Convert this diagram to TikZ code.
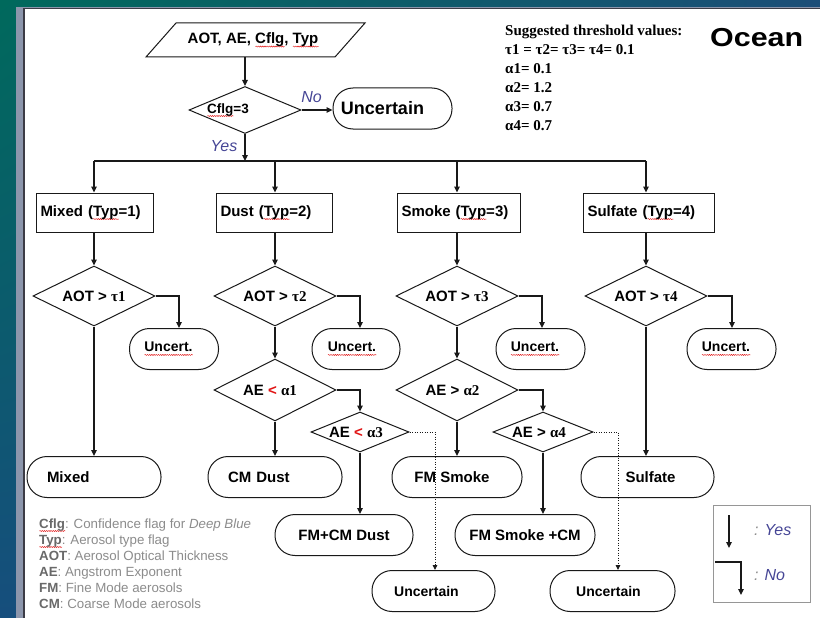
\documentclass[tikz,border=0pt]{standalone}
\usepackage{fontspec}
\setmainfont{Liberation Sans}
\newfontfamily\serifbf{Liberation Serif}
\usepackage{graphicx}
\usetikzlibrary{shapes.geometric,arrows.meta,decorations.pathmorphing,shadings}
\definecolor{bgTL}{RGB}{0,105,92}
\definecolor{bgTR}{RGB}{28,78,120}
\definecolor{bgBL}{RGB}{22,78,125}
\definecolor{bgBR}{RGB}{28,78,120}
\definecolor{stripc}{RGB}{140,150,172}
\definecolor{edgec}{RGB}{60,60,70}
\definecolor{linec}{RGB}{25,25,25}
\definecolor{labc}{RGB}{70,70,150}
\definecolor{legc}{RGB}{140,140,140}
\definecolor{legb}{RGB}{105,105,105}
\definecolor{legbox}{RGB}{150,150,150}
\definecolor{redc}{RGB}{225,20,20}
\newlength\rwlen
\newcommand\rw[1]{\settowidth\rwlen{#1}\rlap{\tikz[baseline=0pt,sharp corners]\draw[redc,solid,sharp corners,line width=0.45pt,decorate,decoration={snake,amplitude=0.55pt,segment length=2.2pt}] (0pt,-3pt) -- (\rwlen,-3pt);}#1}
\newcommand\gk[1]{{\serifbf\bfseries #1}}
\begin{document}
\begin{tikzpicture}[x=1pt,y=-1pt,
 ln/.style={line width=1.1pt,draw=linec},
 arr/.style={ln,-{Triangle[length=6pt,width=5.5pt]}},
 dotarr/.style={line width=0.9pt,draw=linec,dash pattern=on 1pt off 1.5pt,-{Triangle[length=5pt,width=4.5pt]}},
 txt/.style={font=\fontsize{15}{15}\selectfont\bfseries,text=black},
 shp/.style={draw=linec,line width=1pt},
 tbox/.style 2 args={shp,rectangle,txt,minimum width=#1pt,minimum height=39pt,inner xsep=4.5pt,inner ysep=0pt,text width=#2pt,align=left},
 term/.style={shp,rectangle,rounded corners=20pt,txt,minimum width=#1pt,minimum height=41pt,inner sep=0pt},
 lterm/.style 2 args={term=#1,text width=#2pt,align=left},
 dia/.style 2 args={shp,diamond,aspect=2.5,inner sep=0pt,txt,minimum width=#1pt,minimum height=#2pt},
 ylab/.style={font=\fontsize{16}{16}\selectfont\itshape,text=labc,inner sep=0pt},
 th/.style={font=\serifbf\bfseries\fontsize{15}{15}\selectfont,inner sep=0pt,anchor=base west},
 leg/.style={font=\fontsize{13.3}{13.3}\selectfont,text=legc,inner sep=0pt,anchor=base west},
]
\useasboundingbox (0,0) rectangle (820,618);
% background
\shade[upper left=bgTL,upper right=bgTR,lower left=bgBL,lower right=bgBR] (0,0) rectangle (820,618);
\fill[stripc] (16,7) rectangle (820,8);
\fill[stripc] (16,7) rectangle (23,618);
\fill[edgec] (23,8) rectangle (820,9.5);
\fill[edgec] (23,8) rectangle (24.5,618);
\fill[white] (24.5,9.5) rectangle (820,618);

% input
\node[txt,minimum width=150pt,minimum height=34pt,inner sep=0pt] (in) at (253,40) {AOT, AE, \rw{Cflg}, \rw{Typ}};
\draw[shp] ([shift={(-77,-17)}]in.center) -- ++(189,0) -- ++(-30,34) -- ++(-189,0) -- cycle;

\node[dia={112}{47},font=\fontsize{13.5}{13.5}\selectfont\bfseries] (cflg) at (245,110) {\hspace*{-34pt}\rw{Cflg}=3};
\node[term=119,font=\fontsize{18}{18}\selectfont\bfseries] (uncT) at (392.5,108.5) {\hspace*{-20pt}Uncertain};
\node[ylab] (nol) at (311.5,97) {No};
\node[ylab] (yesl) at (224,146) {Yes};

\draw[arr] (cflg.north |- in.south) -- (cflg.north);
\draw[arr] (cflg.east) -- (cflg.east -| uncT.west);

% type boxes
\node[tbox={117}{108}] (t1) at (94.5,212.5) {Mixed (\rw{Typ}=1)};
\node[tbox={116}{107}] (t2) at (274,212.5) {Dust (\rw{Typ}=2)};
\node[tbox={123}{114}] (t3) at (458.5,212.5) {Smoke (\rw{Typ}=3)};
\node[tbox={131}{122}] (t4) at (648.5,212.5) {Sulfate (\rw{Typ}=4)};

% AOT diamonds
\node[dia={122}{60}] (a1) at (94,296) {AOT > \gk{τ1}};
\node[dia={122}{60}] (a2) at (275,296) {AOT > \gk{τ2}};
\node[dia={122}{60}] (a3) at (457,296) {AOT > \gk{τ3}};
\node[dia={122}{60}] (a4) at (646,296) {AOT > \gk{τ4}};

% Uncert boxes
\node[term=89,font=\fontsize{14}{14}\selectfont\bfseries] (u1) at (174,349) {\hspace*{-11pt}\rw{Uncert.}};
\node[term=88,font=\fontsize{14}{14}\selectfont\bfseries] (u2) at (356,349) {\hspace*{-8pt}\rw{Uncert.}};
\node[term=89,font=\fontsize{14}{14}\selectfont\bfseries] (u3) at (540.5,349) {\hspace*{-11pt}\rw{Uncert.}};
\node[term=89,font=\fontsize{14}{14}\selectfont\bfseries] (u4) at (731.5,349) {\hspace*{-11pt}\rw{Uncert.}};

% AE diamonds
\node[dia={122}{62}] (e1) at (275,390) {\hspace*{-10pt}AE {\color{redc}<} \gk{α1}};
\node[dia={122}{62}] (e2) at (457,390) {\hspace*{-9pt}AE > \gk{α2}};
\node[dia={98}{40}] (e3) at (360,432) {\hspace*{-8pt}AE {\color{redc}<} \gk{α3}};
\node[dia={100}{40}] (e4) at (543,432) {\hspace*{-8pt}AE > \gk{α4}};

% terminals
\node[lterm={134}{94}] (m) at (94,477) {Mixed};
\node[lterm={134}{94}] (cm) at (275,477) {CM Dust};
\node[term=130] (fms) at (457,477) {\hspace*{-10pt}FM Smoke};
\node[term=133] (sul) at (647.5,477) {\hspace*{6pt}Sulfate};
\node[term=138] (fmcm) at (344,535) {FM+CM Dust};
\node[term=140] (fmscm) at (525,535) {FM Smoke +CM};
\node[term=123,font=\fontsize{14}{14}\selectfont\bfseries] (ul) at (433.5,591) {\hspace*{-14pt}Uncertain};
\node[term=125,font=\fontsize{14}{14}\selectfont\bfseries] (ur) at (612.5,591) {\hspace*{-8pt}Uncertain};

% connectors
\coordinate (busL) at (94,161);
\coordinate (busR) at (646,161);
\draw[arr] (cflg.south) -- (cflg.south |- busL);
\draw[ln] (busL) -- (busR);
\foreach \k in {1,2,3,4}{
  \draw[arr] (a\k.north |- busL) -- (a\k.north |- t\k.north);
  \draw[arr] (a\k.north |- t\k.south) -- (a\k.north);
}
\draw[arr] (a1.east) -| ([xshift=5pt]u1.north);
\draw[arr] (a2.east) -| ([xshift=4pt]u2.north);
\draw[arr] (a3.east) -| ([xshift=1.5pt]u3.north);
\draw[arr] (a4.east) -| ([xshift=0.5pt]u4.north);
\draw[arr] (a1.south) -- (a1.south |- m.north);
\draw[arr] (a2.south) -- (e1.north);
\draw[arr] (a3.south) -- (e2.north);
\draw[arr] (a4.south) -- (a4.south |- sul.north);
\draw[arr] (e1.south) -- (e1.south |- cm.north);
\draw[arr] (e1.east) -| (e3.north);
\draw[arr] (e3.south) -- (e3.south |- fmcm.north);
\draw[arr] (e2.south) -- (e2.south |- fms.north);
\draw[arr] (e2.east) -| (e4.north);
\draw[arr] (e4.south) -- (e4.south |- fmscm.north);
\draw[dotarr] (e3.east) -| ([xshift=1.5pt]ul.north);
\draw[dotarr] (e4.east) -| ([xshift=5.5pt]ur.north);

% thresholds
\node[th] (th0) at (505,36) {Suggested threshold values:};
\node[th] (th1) at (505,55) {τ1 = τ2= τ3= τ4= 0.1};
\node[th] (th2) at (505,73.5) {α1= 0.1};
\node[th] (th3) at (505,92.5) {α2= 1.2};
\node[th] (th4) at (505,111) {α3= 0.7};
\node[th] (th5) at (505,130) {α4= 0.7};
\node[anchor=base west,inner sep=0pt,font=\bfseries\fontsize{26}{26}\selectfont] (ocean) at (710,47) {\scalebox{1.17}[1]{Ocean}};

% abbreviations
\node[leg] (l1) at (39,528) {{\color{legb}\bfseries\rw{Cflg}}: Confidence flag for \textit{Deep Blue}};
\node[leg] (l2) at (39,544) {{\color{legb}\bfseries\rw{Typ}}: Aerosol type flag};
\node[leg] (l3) at (39,560) {{\color{legb}\bfseries AOT}: Aerosol Optical Thickness};
\node[leg] (l4) at (39,576) {{\color{legb}\bfseries AE}: Angstrom Exponent};
\node[leg] (l5) at (39,592) {{\color{legb}\bfseries FM}: Fine Mode aerosols};
\node[leg] (l6) at (39,608) {{\color{legb}\bfseries CM}: Coarse Mode aerosols};

% legend box
\node[draw=legbox,line width=1pt,minimum width=97pt,minimum height=97pt,inner sep=0pt] (lg) at (761.5,553.5) {};
\coordinate (ya) at (729,515);
\coordinate (yb) at (729,548);
\coordinate (na) at (715,562);
\coordinate (nb) at (741,595);
\draw[arr] (ya) -- (yb);
\draw[arr] (na) -| (nb);
\node[ylab,anchor=base west] (lyes) at (754,535) {{\color{legc}:} Yes};
\node[ylab,anchor=base west] (lno) at (754,580) {{\color{legc}:} No};
\end{tikzpicture}
\end{document}
